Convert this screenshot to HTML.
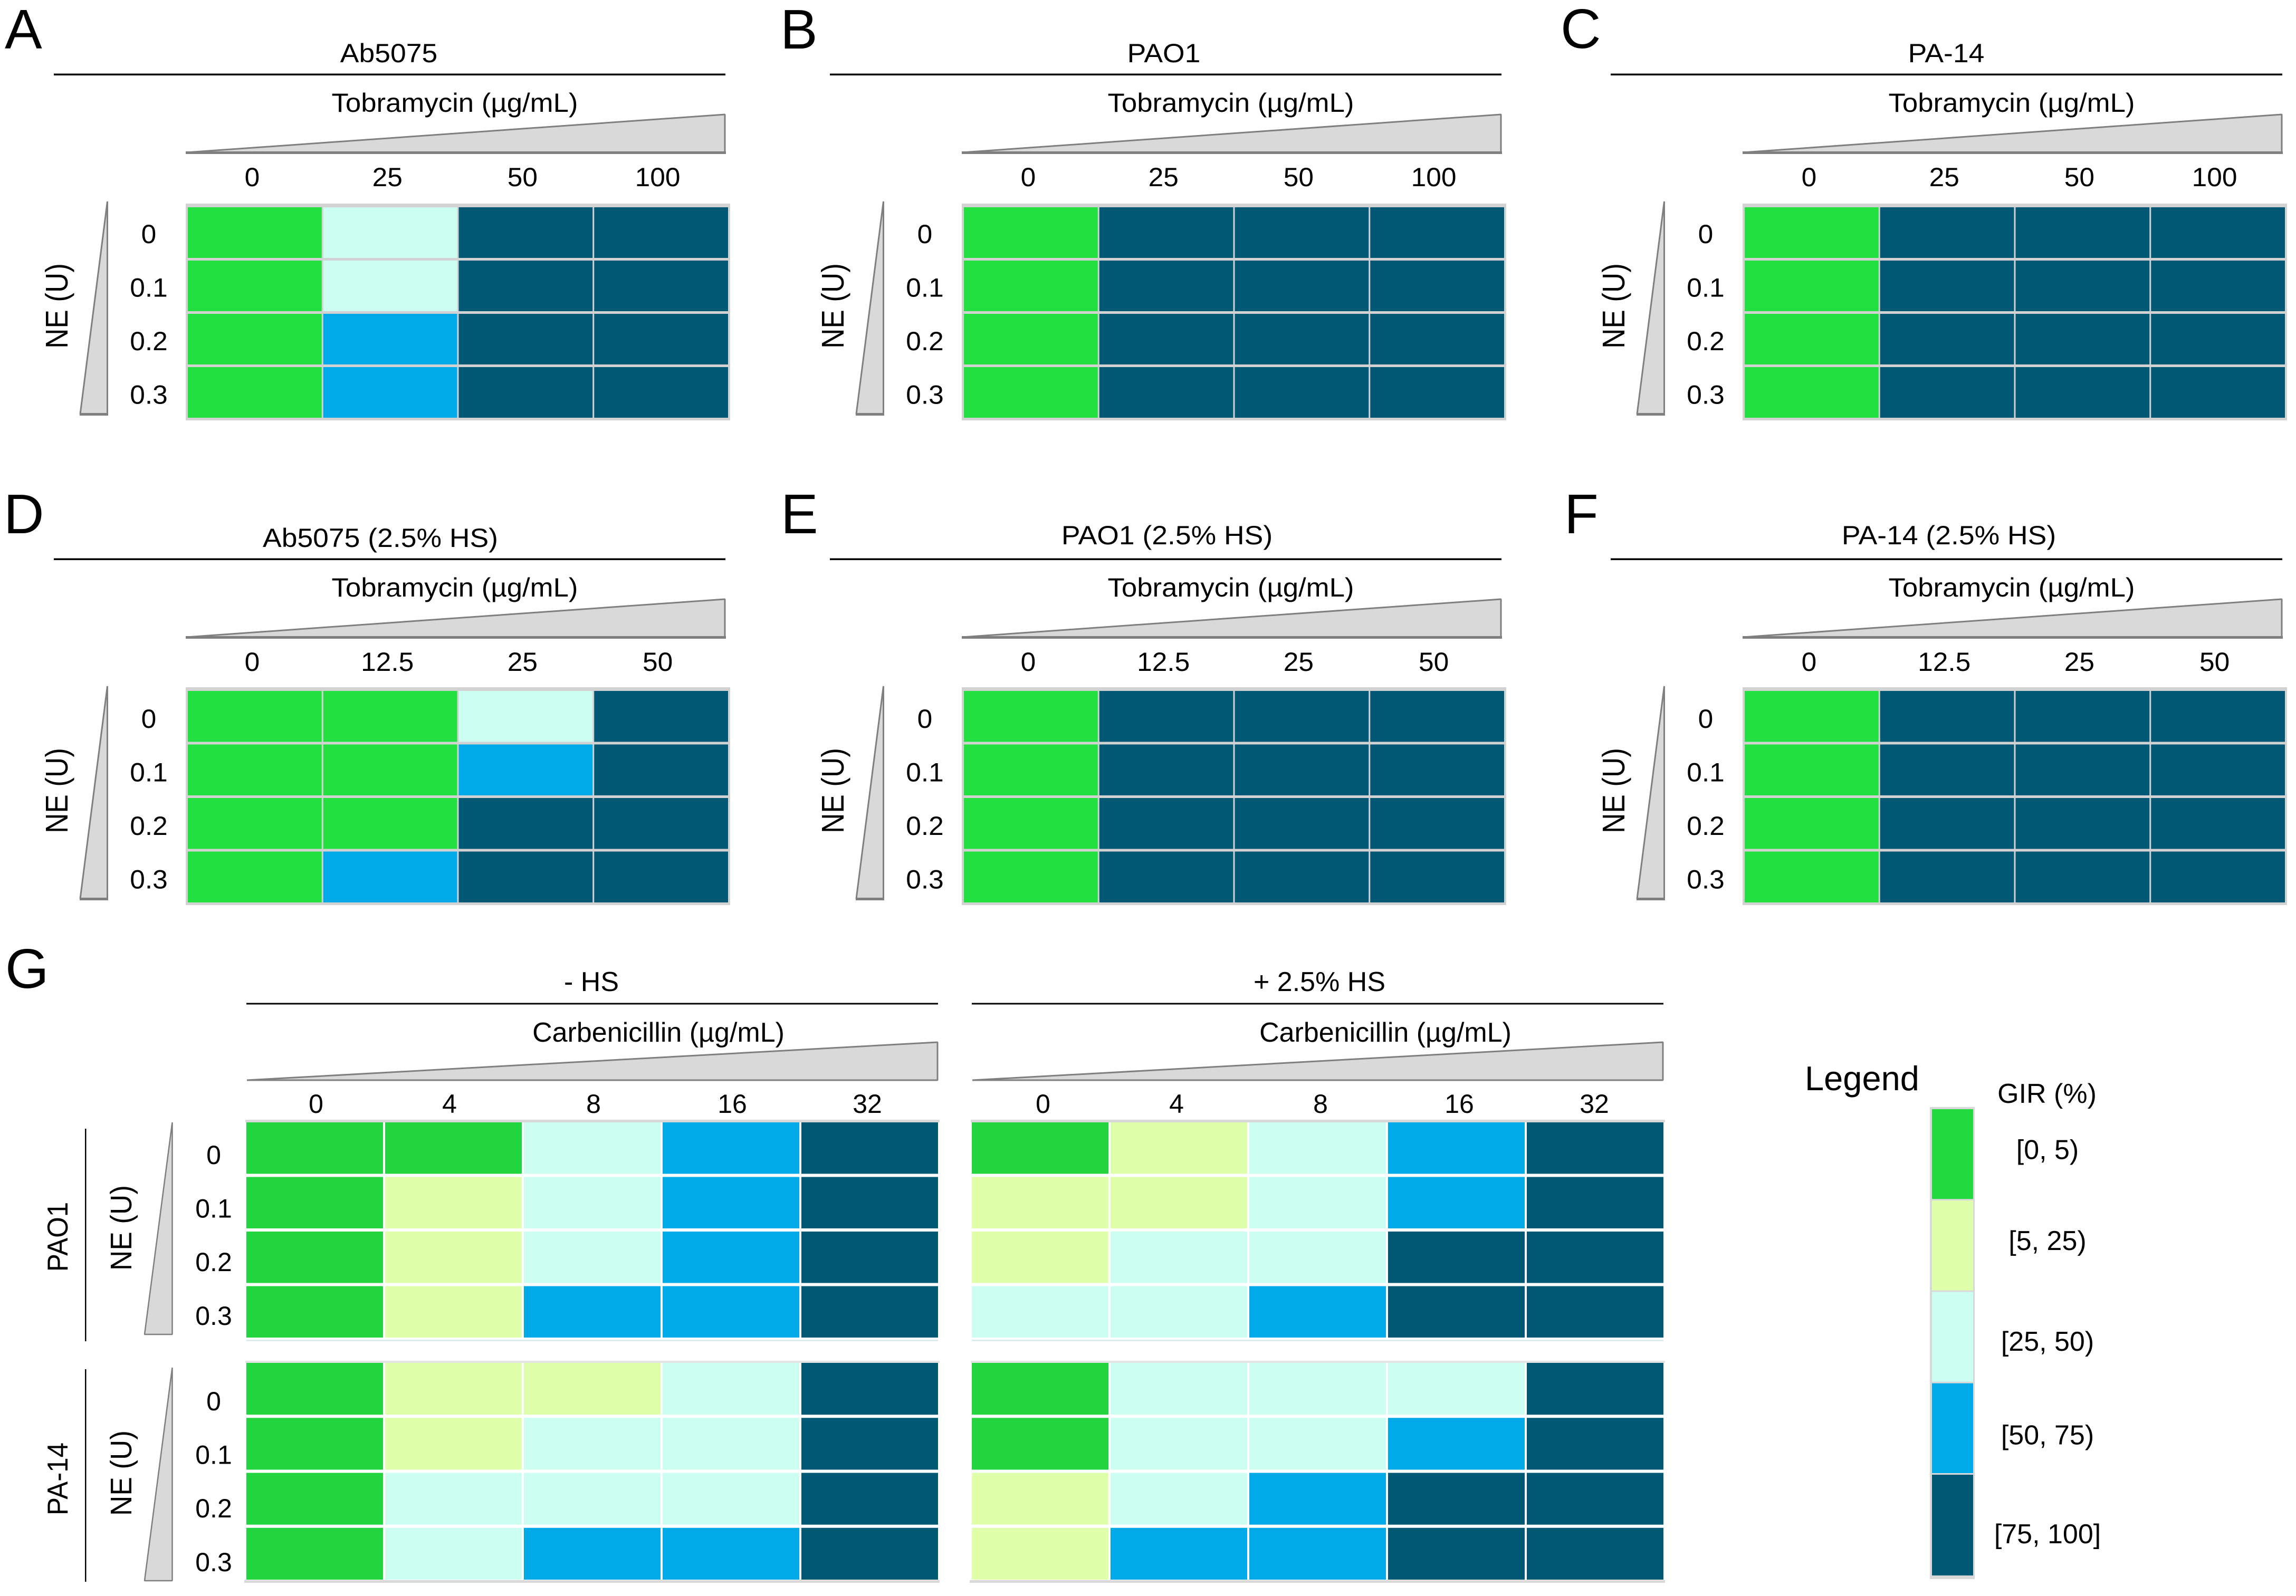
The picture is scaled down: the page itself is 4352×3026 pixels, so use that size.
<!DOCTYPE html>
<html lang="en">
<head>
<meta charset="utf-8">
<title>GIR heatmaps</title>
<style>
html,body{margin:0;padding:0;background:#fff;}
#figure{display:block;width:4352px;height:3026px;background:#fff;}
text{font-family:"Liberation Sans",Arial,sans-serif;fill:#000;}
</style>
</head>
<body>
<svg id="figure" xmlns="http://www.w3.org/2000/svg" width="4352" height="3026" viewBox="0 0 4352 3026"></svg>
<script>
// GIR category labels and colours
const girLabels = ['[0, 5)', '[5, 25)', '[25, 50)', '[50, 75)', '[75, 100]'];
const girColors = ['#22e03f', '#dfffaa', '#ccfff2', '#00a9e8', '#005874'];
const girColorsG = ['#22d53f', '#dfffaa', '#ccfff2', '#00a9e8', '#005874'];

// Tick labels
const neTicks = ['0', '0.1', '0.2', '0.3'];
const tobraTicks = ['0', '25', '50', '100'];
const tobraTicksHS = ['0', '12.5', '25', '50'];
const carbTicks = ['0', '4', '8', '16', '32'];

// Heatmap values: GIR category index per NE row / antibiotic column
const cellsA = [[0,2,4,4],[0,2,4,4],[0,3,4,4],[0,3,4,4]];
const cellsB = [[0,4,4,4],[0,4,4,4],[0,4,4,4],[0,4,4,4]];
const cellsC = [[0,4,4,4],[0,4,4,4],[0,4,4,4],[0,4,4,4]];
const cellsD = [[0,0,2,4],[0,0,3,4],[0,0,4,4],[0,3,4,4]];
const cellsE = [[0,4,4,4],[0,4,4,4],[0,4,4,4],[0,4,4,4]];
const cellsF = [[0,4,4,4],[0,4,4,4],[0,4,4,4],[0,4,4,4]];
const cellsPao1NoHS = [[0,0,2,3,4],[0,1,2,3,4],[0,1,2,3,4],[0,1,3,3,4]];
const cellsPao1HS = [[0,1,2,3,4],[1,1,2,3,4],[1,2,2,4,4],[2,2,3,4,4]];
const cellsPa14NoHS = [[0,1,1,2,4],[0,1,2,2,4],[0,2,2,2,4],[0,2,3,3,4]];
const cellsPa14HS = [[0,2,2,2,4],[0,2,2,3,4],[1,2,3,4,4],[1,3,3,4,4]];

const svg = document.getElementById('figure');
const NS = 'http://www.w3.org/2000/svg';
const GREY = '#d2d2d2';
const WEDGE = '#7f7f7f';

function make(parent, tag, attrs) {
  const node = document.createElementNS(NS, tag);
  for (const k in attrs) node.setAttribute(k, attrs[k]);
  parent.appendChild(node);
  return node;
}
function label(parent, str, x, y, size, sx, rotated, anchor) {
  const tf = 'translate(' + x + ' ' + y + ') scale(' + sx + ' 1)' + (rotated ? ' rotate(-90)' : '');
  const node = make(parent, 'text', {transform: tf, 'font-size': size, 'text-anchor': anchor || 'middle'});
  node.textContent = str;
  return node;
}

// Shared heatmap drawing: scales map indices to pixels
function drawHeatmap(parent, cells, colors, box, namePrefix) {
  const nCols = cells[0].length, nRows = cells.length;
  const xScale = i => box.left + i * (box.right - box.left + box.gapX) / nCols;
  const yScale = j => box.top + j * (box.bottom - box.top + box.gapY) / nRows;
  const cw = (box.right - box.left + box.gapX) / nCols - box.gapX;
  const ch = (box.bottom - box.top + box.gapY) / nRows - box.gapY;
  cells.forEach((row, j) => row.forEach((v, i) => {
    const el = make(parent, 'rect', {x: xScale(i), y: yScale(j), width: cw, height: ch, fill: colors[v]});
    
    
  }));
}

// ---- Panels A-F ----
const topPanels = [
  {id:'a', letter:'A', lx:9,    ly:92,   title:'Ab5075',            tx:737,  ty:118,  dx:0,    dy:0,   gdy:0,   gext:0, ticks:tobraTicks,   cells:cellsA},
  {id:'b', letter:'B', lx:1479, ly:92,   title:'PAO1',              tx:2206, ty:118,  dx:1471, dy:0,   gdy:0,   gext:0, ticks:tobraTicks,   cells:cellsB},
  {id:'c', letter:'C', lx:2958, ly:91,   title:'PA-14',             tx:3689, ty:118,  dx:2951, dy:0,   gdy:0,   gext:0, ticks:tobraTicks,   cells:cellsC},
  {id:'d', letter:'D', lx:7,    ly:1011, title:'Ab5075 (2.5% HS)',  tx:721,  ty:1037, dx:0,    dy:919, gdy:917, gext:2, ticks:tobraTicksHS, cells:cellsD},
  {id:'e', letter:'E', lx:1480, ly:1011, title:'PAO1 (2.5% HS)',    tx:2212, ty:1032, dx:1471, dy:919, gdy:917, gext:2, ticks:tobraTicksHS, cells:cellsE},
  {id:'f', letter:'F', lx:2965, ly:1011, title:'PA-14 (2.5% HS)',   tx:3694, ty:1032, dx:2951, dy:919, gdy:917, gext:2, ticks:tobraTicksHS, cells:cellsF}
];

topPanels.forEach(p => {
  const g = make(svg, 'g', {});
  
  

  const letter = label(g, p.letter, p.lx, p.ly, 106, 1, false, 'start');
  
  

  const title = label(g, p.title, p.tx, p.ty, 50, 1.07);
  
  

  const rule = make(g, 'rect', {x: 102 + p.dx, y: 139.5 + p.dy, width: 1273, height: 3.5, fill: '#000'});
  
  

  const xTitle = label(g, 'Tobramycin (µg/mL)', 862 + p.dx, 212 + p.dy, 50, 1.055);
  
  

  const wedgeX = make(g, 'polygon', {
    points: (353 + p.dx) + ',' + (289 + p.dy) + ' ' + (1374 + p.dx) + ',' + (217 + p.dy) + ' ' + (1374 + p.dx) + ',' + (289 + p.dy),
    fill: '#d9d9d9', stroke: WEDGE, 'stroke-width': 3, 'stroke-linejoin': 'bevel'
  });
  
  

  const wedgeXBase = make(g, 'rect', {x: 352 + p.dx, y: 287 + p.dy, width: 1024, height: 5, fill: WEDGE});
  
  

  const colX = i => 478 + p.dx + i * 256.2;
  p.ticks.forEach((t, i) => {
    const el = label(g, t, colX(i), 353 + p.dy, 50, 1.03);
    
    
  });

  const rowY = j => 461 + p.dy + j * 101.5;
  neTicks.forEach((t, j) => {
    const el = label(g, t, 282 + p.dx, rowY(j), 50, 1.03);
    
    
  });

  const yTitle = label(g, 'NE (U)', 128 + p.dx, 580 + p.dy, 53, 1.12, true);
  
  

  const wedgeY = make(g, 'polygon', {
    points: (203.5 + p.dx) + ',' + (382 + p.dy) + ' ' + (203.5 + p.dx) + ',' + (785 + p.dy) + ' ' + (152 + p.dx) + ',' + (785 + p.dy),
    fill: '#d9d9d9', stroke: WEDGE, 'stroke-width': 3, 'stroke-linejoin': 'bevel'
  });
  
  

  const wedgeYBase = make(g, 'rect', {x: 151 + p.dx, y: 783 + p.dy, width: 54, height: 5, fill: WEDGE});
  
  

  const gbg = make(g, 'rect', {x: 352 + p.dx, y: 386 + p.gdy, width: 1032, height: 411 + p.gext, fill: GREY});
  
  

  drawHeatmap(g, p.cells, girColors, {
    left: 356 + p.dx, right: 1380 + p.dx, top: 393 + p.gdy, bottom: 792 + p.gdy + p.gext, gapX: 3, gapY: 5
  }, 'heatmap-' + p.id);
});

// ---- Panel G ----
const panelG = make(svg, 'g', {});



const letterG = label(panelG, 'G', 10, 1873, 106, 1, false, 'start');



const gColumns = [
  {id:'no-hs', title:'- HS',       dx:0,    tdx:0,    tcx:1121, acx:1248, top:cellsPao1NoHS, bottom:cellsPa14NoHS},
  {id:'hs',    title:'+ 2.5% HS',  dx:1375, tdx:1378, tcx:2501, acx:2626, top:cellsPao1HS,   bottom:cellsPa14HS}
];
const gTickNudge = [0, -9, 2, 3, -3];

gColumns.forEach(c => {
  const g = make(panelG, 'g', {});
  
  

  const title = label(g, c.title, c.tcx, 1879, 52, 1);
  
  

  const rule = make(g, 'rect', {x: 467 + c.dx, y: 1901.5, width: 1311, height: 3, fill: '#000'});
  
  

  const xTitle = label(g, 'Carbenicillin (µg/mL)', c.acx, 1975, 52, 1);
  
  

  const wedge = make(g, 'polygon', {
    points: (468 + c.dx) + ',' + 2048 + ' ' + (1777 + c.dx) + ',' + 1976 + ' ' + (1777 + c.dx) + ',' + 2048,
    fill: '#d9d9d9', stroke: WEDGE, 'stroke-width': 3, 'stroke-linejoin': 'bevel'
  });
  
  

  const colX = i => 599 + c.tdx + i * 262 + gTickNudge[i];
  carbTicks.forEach((t, i) => {
    const el = label(g, t, colX(i), 2110, 50, 1);
    
    
  });

  const topBorder = make(g, 'rect', {x: 465 + c.dx, y: 2123, width: 1316, height: 5, fill: '#d9d9d9'});
  
  

  const midLine = make(g, 'rect', {x: 467 + c.dx, y: 2540, width: 1311, height: 3, fill: '#dcecec'});
  
  

  const topBorder2 = make(g, 'rect', {x: 465 + c.dx, y: 2580, width: 1316, height: 4, fill: '#e4e4e4'});
  
  

  const bottomBorder = make(g, 'rect', {x: 463 + c.dx, y: 2996, width: 1318, height: 5, fill: '#d9d9d9'});
  
  

  drawHeatmap(g, c.top, girColorsG, {left: 467 + c.dx, right: 1778 + c.dx, top: 2128, bottom: 2536, gapX: 4, gapY: 6}, 'heatmap-pao1-' + c.id);
  drawHeatmap(g, c.bottom, girColorsG, {left: 467 + c.dx, right: 1778 + c.dx, top: 2584, bottom: 2995, gapX: 4, gapY: 6}, 'heatmap-pa14-' + c.id);
});

const strainRows = [
  {name:'PAO1',  y0:2207, lineTop:2140, lineBottom:2543, tipY:2127, baseY:2531, titleY:2328, strainY:2345},
  {name:'PA-14', y0:2674, lineTop:2596, lineBottom:2999, tipY:2592, baseY:2998, titleY:2793, strainY:2804}
];
strainRows.forEach(s => {
  const g = make(panelG, 'g', {});
  
  

  const strain = label(g, s.name, 128, s.strainY, 51, 1.08, true);
  
  

  const line = make(g, 'rect', {x: 161, y: s.lineTop, width: 2.5, height: s.lineBottom - s.lineTop, fill: '#000'});
  
  

  const yTitle = label(g, 'NE (U)', 249, s.titleY, 53, 1.07, true);
  
  

  const wedge = make(g, 'polygon', {
    points: 326.5 + ',' + (s.tipY + 1) + ' ' + 326.5 + ',' + (s.baseY - 1) + ' ' + 274 + ',' + (s.baseY - 1),
    fill: '#d9d9d9', stroke: WEDGE, 'stroke-width': 2.5, 'stroke-linejoin': 'bevel'
  });
  
  

  const rowY = j => s.y0 + j * 101.6;
  neTicks.forEach((t, j) => {
    const el = label(g, t, 405, rowY(j), 50, 1);
    
    
  });
});

// ---- Legend ----
const legend = make(svg, 'g', {});



const legendTitle = label(legend, 'Legend', 3421, 2067, 65, 1, false, 'start');



const legendUnit = label(legend, 'GIR (%)', 3880, 2091, 52, 1);



const legendBg = make(legend, 'rect', {x: 3658, y: 2099, width: 85, height: 895, fill: '#d8d8d8'});



const legendTop = 2103;
const legendUnitH = 173.25;
const legendBandWeights = [1, 1, 1, 1, 1.12];
const legendLabelNudge = [8, 7, 25, 29, 33];
let legendCursor = legendTop;
girLabels.forEach((t, i) => {
  const h = legendUnitH * legendBandWeights[i];
  const sw = make(legend, 'rect', {x: 3662, y: legendCursor, width: 78, height: h - 3, fill: i === 0 ? '#22d93f' : girColors[i]});
  
  

  const el = label(legend, t, 3881, legendCursor + h / 2 + legendLabelNudge[i], 52, 1);
  
  
  legendCursor += h;
});
</script>
</body>
</html>
